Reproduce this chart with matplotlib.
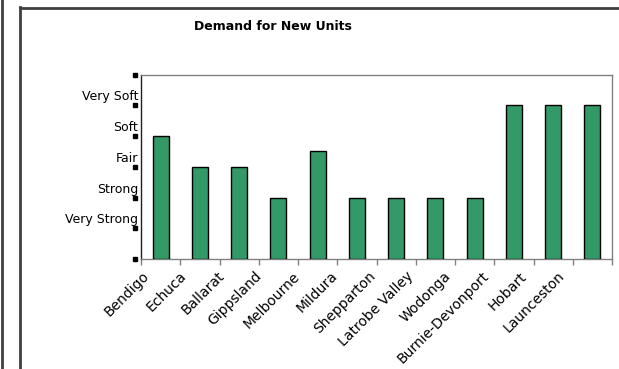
import matplotlib
matplotlib.use("Agg")
import matplotlib.pyplot as plt
import matplotlib.transforms as mtransforms
from matplotlib.lines import Line2D

categories = ["Bendigo", "Echuca", "Ballarat", "Gippsland", "Melbourne", "Mildura",
              "Shepparton", "Latrobe Valley", "Wodonga", "Burnie-Devonport", "Hobart",
              "Launceston"]
values = [4, 3, 3, 2, 3.5, 2, 2, 2, 2, 5, 5, 5]
level_labels = ["", "Very Strong", "Strong", "Fair", "Soft", "Very Soft", ""]

plt.rcParams["font.family"] = ["DejaVu Sans"]

W, H = 619, 369
fig = plt.figure(figsize=(W / 100, H / 100), dpi=100)
fig.patch.set_facecolor("white")

# outer frame lines
def px_line(x0, y0, x1, y1, lw=2, color="#404040"):
    fig.add_artist(Line2D([x0 / W, x1 / W], [1 - y0 / H, 1 - y1 / H],
                          transform=fig.transFigure, lw=lw, color=color))

px_line(1.5, 0, 1.5, H)
px_line(20, 7.5, W, 7.5)
px_line(20, 7, 20, H)

left, right, top, bottom = 141, 612, 74.7, 259
ax = fig.add_axes([left / W, 1 - bottom / H, (right - left) / W, (bottom - top) / H])

x = list(range(len(categories)))
ax.bar(x, values, width=0.41, color="#339966", edgecolor="black", linewidth=1.0, zorder=3)

ax.set_xlim(-0.5, len(categories) - 0.5)
ax.set_ylim(0, len(level_labels) - 1)

for s in ["top", "right", "bottom"]:
    ax.spines[s].set_color("#808080")
    ax.spines[s].set_linewidth(1.0)
ax.spines["left"].set_color("#202020")
ax.spines["left"].set_linewidth(1.0)

# x ticks at category boundaries
ax.set_xticks([i - 0.5 for i in range(len(categories) + 1)])
ax.set_xticklabels([])
ax.tick_params(axis="x", direction="out", length=4, width=1, color="#808080")

# category labels (slightly compressed spacing, as in the original rendering)
for i, c in enumerate(categories):
    tr = ax.get_xaxis_transform() + mtransforms.ScaledTranslation(
        (-14 - 1.5 * i) / 100, -15 / 100, fig.dpi_scale_trans)
    ax.text(i, 0, c, transform=tr, rotation=45, ha="right", va="center",
            rotation_mode="anchor", fontsize=10)

# y ticks as small squares offset from axis
ax.set_yticks([])
sq_tr = mtransforms.blended_transform_factory(ax.transAxes, ax.transData) + \
    mtransforms.ScaledTranslation(-6 / 100, 0, fig.dpi_scale_trans)
levels = list(range(len(level_labels)))
ax.plot([0] * len(levels), levels, linestyle="none", marker="s", markersize=2.6,
        color="black", transform=sq_tr, clip_on=False)

# y labels, slightly above their ticks
yl_tr = mtransforms.blended_transform_factory(ax.transAxes, ax.transData) + \
    mtransforms.ScaledTranslation(-3 / 100, 8.5 / 100, fig.dpi_scale_trans)
for lv, lab in zip(levels, level_labels):
    if lab:
        ax.text(0, lv, lab, transform=yl_tr, ha="right", va="center", fontsize=9)

fig.text(273 / W, 1 - 27 / H, "Demand for New Units", ha="center", va="center",
         fontsize=9, fontweight="bold")

fig.savefig("out.png", dpi=100)
